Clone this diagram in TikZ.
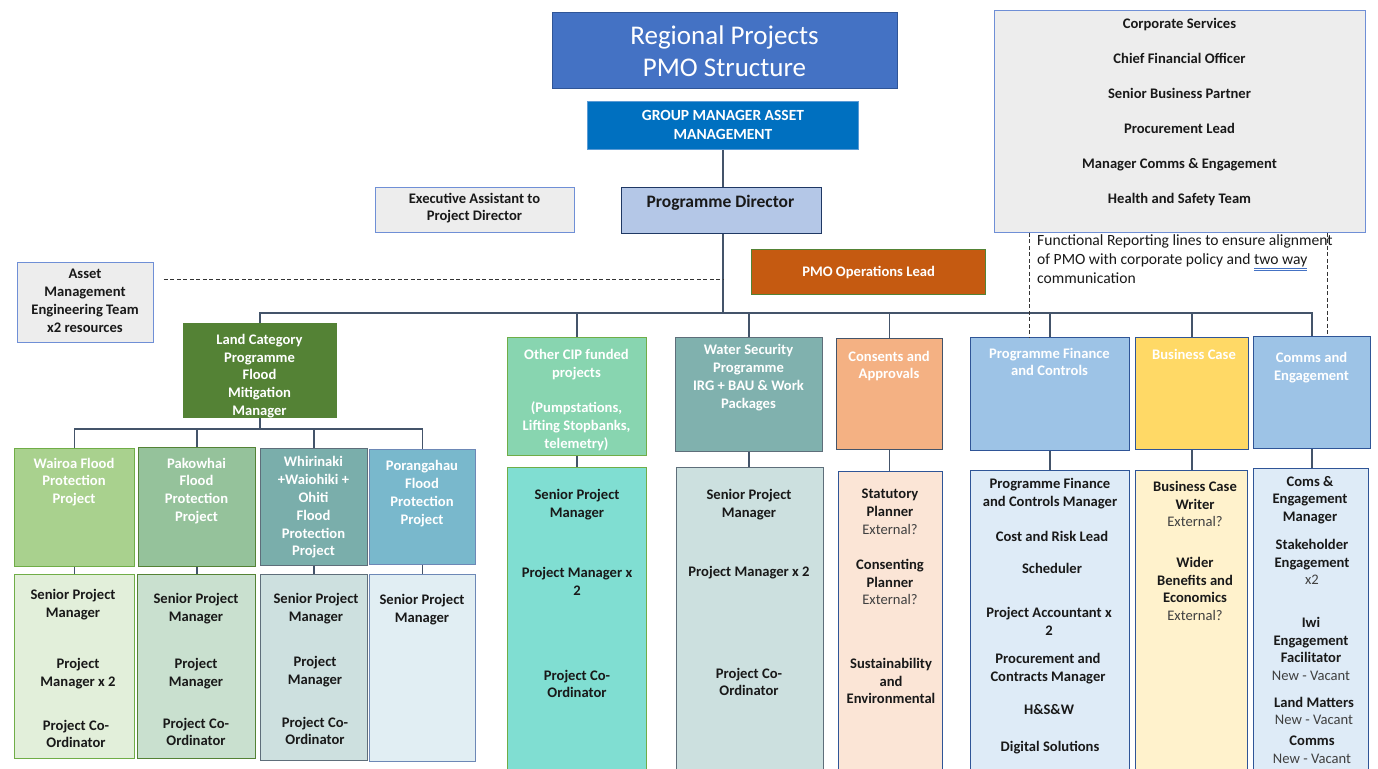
\documentclass[tikz,border=0pt]{standalone}
\usepackage{fontspec}
\setmainfont{Carlito}

\definecolor{titleblue}{HTML}{4472C4}
\definecolor{titleedge}{HTML}{2F5597}
\definecolor{gmblue}{HTML}{0070C0}
\definecolor{gmedge}{HTML}{5B9BD5}
\definecolor{paper}{HTML}{EDEDED}
\definecolor{paperedge}{HTML}{6F8FD6}
\definecolor{dirfill}{HTML}{B4C7E7}
\definecolor{diredge}{HTML}{1F3864}
\definecolor{opsfill}{HTML}{C55A11}
\definecolor{opsedge}{HTML}{548235}
\definecolor{landfill}{HTML}{548235}
\definecolor{cipfill}{HTML}{88D5B0}
\definecolor{cipedge}{HTML}{70AD47}
\definecolor{cipsoft}{HTML}{80DED2}
\definecolor{waterfill}{HTML}{80B1AE}
\definecolor{wateredge}{HTML}{5E6E7A}
\definecolor{watersoft}{HTML}{CCE0DF}
\definecolor{consfill}{HTML}{F4B183}
\definecolor{consedge}{HTML}{44546A}
\definecolor{conssoft}{HTML}{FBE5D6}
\definecolor{finfill}{HTML}{9DC3E6}
\definecolor{finedge}{HTML}{2F5597}
\definecolor{finsoft}{HTML}{DEEBF7}
\definecolor{bcfill}{HTML}{FFD966}
\definecolor{bcsoft}{HTML}{FFF2CC}
\definecolor{wairoafill}{HTML}{A9D18E}
\definecolor{wairoasoft}{HTML}{E2EFDA}
\definecolor{pakofill}{HTML}{95C29B}
\definecolor{pakosoft}{HTML}{C9E0CF}
\definecolor{whirifill}{HTML}{7AAEAB}
\definecolor{whirisoft}{HTML}{CDE0DF}
\definecolor{porafill}{HTML}{79B8CC}
\definecolor{porasoft}{HTML}{E1EEF3}
\definecolor{linkgray}{HTML}{44546A}
\definecolor{softtext}{HTML}{404040}
\definecolor{spellblue}{HTML}{4472C4}

\tikzset{
  box/.style={draw, line width=0.9pt, inner sep=0pt, anchor=north west},
  lbl/.style={font=\bfseries\fontsize{14.6}{17.8}\selectfont, align=center, inner sep=0pt, text=black!90},
  head/.style={lbl, text=white},
  link/.style={draw=linkgray, line width=1.3pt},
  func/.style={draw=black!80, line width=0.9pt, dash pattern=on 4pt off 2.5pt}
}
\newcommand{\ext}[1]{{\mdseries\color{softtext}#1}}

\begin{document}
\begin{tikzpicture}[x=1pt,y=1pt]
\clip (0,0) rectangle (1378,-768);
\fill[white] (0,0) rectangle (1378,-768);

% top of the chart
\node[box, fill=titleblue, draw=titleedge, minimum width=345, minimum height=76] (title) at (552,-12) {};
\node[font=\fontsize{27}{32}\selectfont, text=white, align=center, inner sep=0pt] (titletext) at (724.5,-51) {Regional Projects\\PMO Structure};
\node[box, fill=gmblue, draw=gmedge, minimum width=271, minimum height=48] (gm) at (587,-101) {};
\node[head, font=\bfseries\fontsize{15.5}{19}\selectfont] (gmtext) at (gm.center) {GROUP MANAGER ASSET\\MANAGEMENT};
\node[box, fill=paper, draw=paperedge, minimum width=199, minimum height=45] (exec) at (375,-187) {};
\node[lbl] (exectext) at (474.5,-208) {Executive Assistant to\\Project Director};
\node[box, fill=dirfill, draw=diredge, line width=1.2pt, minimum width=200, minimum height=46] (director) at (620.5,-187) {};
\node[lbl, font=\bfseries\fontsize{17.5}{18}\selectfont] (dirtext) at (720.5,-203) {Programme Director};
\node[box, fill=opsfill, draw=opsedge, line width=1.2pt, minimum width=234, minimum height=45] (ops) at (751,-249) {};
\node[head] (opstext) at (ops.center) {PMO Operations Lead};
\node[box, fill=paper, draw=paperedge, minimum width=371, minimum height=222] (corp) at (994,-10) {};
\node[lbl, font=\bfseries\fontsize{14.6}{35}\selectfont] (corptext) at (1179.5,-112) {Corporate Services\\Chief Financial Officer\\Senior Business Partner\\Procurement Lead\\Manager Comms \& Engagement\\Health and Safety Team};
\node[anchor=north west, align=left, inner sep=0pt, font=\fontsize{15.6}{19}\selectfont, text=black!90] (functext) at (1037,-234)
  {Functional Reporting lines to ensure alignment\\of PMO with corporate policy and {\color{spellblue}\underline{\underline{\color{black!90}two way}}}\\communication};
\node[box, fill=paper, draw=paperedge, minimum width=136, minimum height=80] (asset) at (17,-262) {};
\node[lbl] (assettext) at (85,-301) {Asset\\Management\\Engineering Team\\x2 resources};

% programme heads
\node[box, fill=landfill, draw=landfill, minimum width=153, minimum height=94] (land) at (183,-323) {};
\node[head] (landtext) at (259.5,-376) {Land Category\\Programme\\Flood\\Mitigation\\Manager};
\node[box, fill=cipfill, draw=cipedge, minimum width=139, minimum height=118] (cip) at (507,-337) {};
\node[head] (ciptext) at (576.5,-400) {Other CIP funded\\projects\\[17.8pt](Pumpstations,\\Lifting Stopbanks,\\telemetry)};
\node[box, fill=waterfill, draw=wateredge, minimum width=147, minimum height=114] (water) at (675,-337) {};
\node[head] (watertext) at (748.5,-377.5) {Water Security\\Programme\\IRG + BAU \& Work\\Packages};
\node[box, fill=consfill, draw=consedge, minimum width=106, minimum height=111] (cons) at (836,-338) {};
\node[head] (constext) at (889,-366) {Consents and\\Approvals};
\node[box, fill=finfill, draw=finedge, minimum width=159, minimum height=113] (fin) at (970,-337) {};
\node[head] (fintext) at (1049.5,-362) {Programme Finance\\and Controls};
\node[box, fill=bcfill, draw=finedge, minimum width=113, minimum height=112] (bc) at (1135,-337) {};
\node[head] (bctext) at (1194,-354) {Business Case};
\node[box, fill=finfill, draw=finedge, minimum width=117, minimum height=112] (comms) at (1253,-336) {};
\node[head] (commstext) at (1311.5,-368) {Comms and\\Engagement};

% flood protection projects
\node[box, fill=wairoafill, draw=cipedge, minimum width=120, minimum height=118] (wairoa) at (14,-448) {};
\node[head] (wairoatext) at (74,-482) {Wairoa Flood\\Protection\\Project};
\node[box, fill=pakofill, draw=opsedge, minimum width=117, minimum height=119] (pako) at (138,-447) {};
\node[head] (pakotext) at (196.5,-491) {Pakowhai\\Flood\\Protection\\Project};
\node[box, fill=whirifill, draw=wateredge, minimum width=107, minimum height=117] (whiri) at (260,-448) {};
\node[head] (whiritext) at (313.5,-507.5) {Whirinaki\\+Waiohiki +\\Ohiti\\Flood\\Protection\\Project};
\node[box, fill=porafill, draw=finedge!70, minimum width=106, minimum height=115] (pora) at (369,-449) {};
\node[head] (poratext) at (422,-493.5) {Porangahau\\Flood\\Protection\\Project};

% team boxes
\node[box, fill=wairoasoft, draw=cipedge, minimum width=120, minimum height=184] (wairoateam) at (14,-574) {};
\node[box, fill=pakosoft, draw=opsedge, minimum width=118, minimum height=184] (pakoteam) at (137,-574) {};
\node[box, fill=whirisoft, draw=wateredge, minimum width=107, minimum height=186] (whiriteam) at (260,-574) {};
\node[box, fill=porasoft, draw=finedge!70, minimum width=106, minimum height=187] (porateam) at (369,-574) {};
\node[box, fill=cipsoft, draw=cipedge, minimum width=139, minimum height=320] (cipteam) at (507,-467) {};
\node[box, fill=watersoft, draw=wateredge, minimum width=147, minimum height=320] (waterteam) at (676,-467) {};
\node[box, fill=conssoft, draw=finedge, minimum width=104, minimum height=320] (consteam) at (838,-471) {};
\node[box, fill=finsoft, draw=finedge, minimum width=159, minimum height=320] (finteam) at (970,-470) {};
\node[box, fill=bcsoft, draw=finedge, minimum width=112, minimum height=320] (bcteam) at (1135,-470) {};
\node[box, fill=finsoft, draw=finedge, minimum width=115, minimum height=320] (commsteam) at (1253,-468) {};

% roles
\node[lbl] (wairoaA) at (73,-605) {Senior Project\\Manager};
\node[lbl] (wairoaB) at (78,-674) {Project\\Manager x 2};
\node[lbl] (wairoaC) at (76,-734) {Project Co-\\Ordinator};
\node[lbl] (pakoA) at (196,-609) {Senior Project\\Manager};
\node[lbl] (pakoB) at (196,-674) {Project\\Manager};
\node[lbl] (pakoC) at (196,-732) {Project Co-\\Ordinator};
\node[lbl] (whiriA) at (316,-609) {Senior Project\\Manager};
\node[lbl] (whiriB) at (315,-672) {Project\\Manager};
\node[lbl] (whiriC) at (315,-731) {Project Co-\\Ordinator};
\node[lbl] (poraA) at (422,-610) {Senior Project\\Manager};
\node[lbl] (cipA) at (577,-505) {Senior Project\\Manager};
\node[lbl] (cipB) at (577,-581) {Project Manager x\\2};
\node[lbl] (cipC) at (577,-684) {Project Co-\\Ordinator};
\node[lbl] (waterA) at (749,-505) {Senior Project\\Manager};
\node[lbl] (waterB) at (749,-573) {Project Manager x 2};
\node[lbl] (waterC) at (749,-682) {Project Co-\\Ordinator};
\node[lbl] (consA) at (890,-512) {Statutory\\Planner\\\ext{External?}};
\node[lbl] (consB) at (890,-582) {Consenting\\Planner\\\ext{External?}};
\node[lbl] (consC) at (891,-681) {Sustainability\\and\\Environmental};
\node[lbl] (finA) at (1050,-494) {Programme Finance\\and Controls Manager};
\node[lbl] (finB) at (1052,-536) {Cost and Risk Lead};
\node[lbl] (finC) at (1052,-568) {Scheduler};
\node[lbl] (finD) at (1049,-621) {Project Accountant x\\2};
\node[lbl] (finE) at (1048,-669) {Procurement and\\Contracts Manager};
\node[lbl] (finF) at (1049,-710) {H\&S\&W};
\node[lbl] (finG) at (1050,-748) {Digital Solutions};
\node[lbl] (bcA) at (1195,-504) {Business Case\\Writer\\\ext{External?}};
\node[lbl] (bcB) at (1195,-589) {Wider\\Benefits and\\Economics\\\ext{External?}};
\node[lbl] (commsA) at (1310,-500) {Coms \&\\Engagement\\Manager};
\node[lbl] (commsB) at (1312,-562) {Stakeholder\\Engagement\\\ext{x2}};
\node[lbl] (commsC) at (1311,-649) {Iwi\\Engagement\\Facilitator\\\ext{New - Vacant}};
\node[lbl] (commsD) at (1314,-711) {Land Matters\\\ext{New - Vacant}};
\node[lbl] (commsE) at (1312,-750) {Comms\\\ext{New - Vacant}};

% reporting lines
\draw[link] (gm.south) -- (gm.south |- director.north);
\draw[link] (gm.south |- director.south) -- (gm.south |- 0,-313);
\foreach \n in {land,cip,water,cons,fin,bc,comms}
  \draw[link] (\n.north) |- (gm.south |- 0,-313);
\draw[link] (land.south) -- (land.south |- 0,-429);
\foreach \n in {wairoa,pako,whiri,pora}
  \draw[link] (\n.north) |- (land.south |- 0,-429);
\draw[link] (wairoa.south) -- (wairoateam.north -| wairoa.south);
\draw[link] (pako.south) -- (pakoteam.north -| pako.south);
\draw[link] (whiri.south) -- (whiriteam.north -| whiri.south);
\draw[link] (pora.south) -- (porateam.north -| pora.south);
\draw[link] (cip.south) -- (cipteam.north -| cip.south);
\draw[link] (water.south) -- (waterteam.north -| water.south);
\draw[link] (cons.south) -- (consteam.north -| cons.south);
\draw[link] (fin.south) -- (finteam.north -| fin.south);
\draw[link] (bc.south) -- (bcteam.north -| bc.south);
\draw[link] (comms.south) -- (commsteam.north -| comms.south);

% dotted lines
\draw[func] ([xshift=10]asset.east |- 0,-279) -- (gm.south |- 0,-279);
\draw[func] (corp.south -| 1029,0) -- (fin.north -| 1029,0);
\draw[func] (corp.south -| 1327,0) -- (comms.north -| 1327,0);
\end{tikzpicture}
\end{document}
